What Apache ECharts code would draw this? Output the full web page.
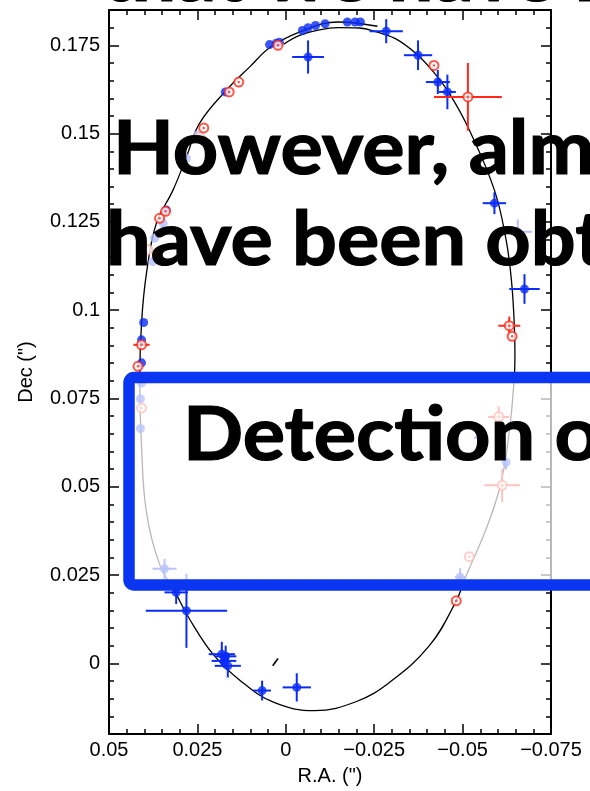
<!DOCTYPE html>
<html><head><meta charset="utf-8">
<script src="https://cdn.jsdelivr.net/npm/echarts@6/dist/echarts.min.js"></script>
<style>html,body{margin:0;padding:0;background:#fff}#c{width:590px;height:791px}</style>
</head><body><div id="c"></div>
<script>
// ---- data (R.A. ["], Dec ["], err R.A., err Dec) ----
const xTicks = [0.05, 0.025, 0, -0.025, -0.05, -0.075];
const yTicks = [0, 0.025, 0.05, 0.075, 0.1, 0.125, 0.15, 0.175];

const orbitPoints = [
 [0.0006,0.1753],[-0.0039,0.1778],[-0.0095,0.1794],[-0.0149,0.1800],[-0.0208,0.1799],
 [-0.0256,0.1788],[-0.0310,0.1769],[-0.0369,0.1726],[-0.0418,0.1674],[-0.0463,0.1613],
 [-0.0519,0.1510],[-0.0590,0.1340],[-0.0623,0.1199],[-0.0638,0.1086],[-0.0646,0.0964],
 [-0.0648,0.0880],[-0.0646,0.0803],[-0.0627,0.0615],[-0.0604,0.0493],[-0.0566,0.0379],
 [-0.0510,0.0248],[-0.0482,0.0177],[-0.0406,0.0050],[-0.0293,-0.0054],[-0.0200,-0.0108],
 [-0.0082,-0.0134],[0.0035,-0.0110],[0.0131,-0.0047],[0.0206,0.0026],
 [0.0272,0.0125],[0.0310,0.0196],[0.0357,0.0281],[0.0394,0.0427],[0.0408,0.0615],
 [0.0413,0.0803],[0.0408,0.0964],[0.0394,0.1105],[0.0366,0.1246],[0.0319,0.1340],
 [0.0281,0.1434],[0.0244,0.1529],[0.0168,0.1623],[0.0102,0.1689],[0.0043,0.1745],
 [-0.0042,0.1789],[-0.0148,0.1816],[-0.0259,0.1804]
];

const bluePoints = [
 [0.0171,0.1618,0,0],[0.0046,0.1752,0,0],[0.0027,0.1756,0,0],[0.0018,0.1759,0,0],
 [-0.0047,0.1792,0,0],[-0.0063,0.1800,0,0],[-0.0084,0.1806,0,0],[-0.0111,0.1811,0,0],
 [-0.0174,0.1816,0,0],[-0.0196,0.1816,0,0],[-0.0211,0.1816,0,0],
 [-0.0063,0.1717,0.0045,0.0047],[-0.0284,0.1790,0.0047,0.0034],[-0.0374,0.1722,0.0040,0.0042],
 [-0.0430,0.1646,0.0034,0.0034],[-0.0457,0.1618,0.0024,0.0049],[-0.0590,0.1303,0.0033,0.0031],
 [-0.0675,0.1060,0.0043,0.0042],[-0.0031,-0.0068,0.0040,0.0040],[0.0067,-0.0077,0.0025,0.0028],
 [0.0281,0.0149,0.0115,0.0105],[0.0310,0.0201,0.0033,0.0033],[0.0181,0.0026,0.0037,0.0035],
 [0.0170,0.0020,0.0030,0.0030],[0.0175,0.0007,0.0035,0.0020],[0.0164,-0.0007,0.0037,0.0033],
 [0.0338,0.1284,0,0],[0.0402,0.0965,0,0],[0.0408,0.0916,0,0],[0.0408,0.0851,0,0],
 [0.0408,0.0794,0,0],[0.0411,0.0749,0,0],[0.0411,0.0665,0,0],[0.0343,0.0268,0.0034,0.0028],
 [-0.0552,0.0639,0.0020,0.0030],[-0.0623,0.0569,0,0.0020],[-0.0493,0.0244,0.0015,0.0025]
];

const redPoints = [
 [0.0160,0.1618,0,0],[0.0133,0.1646,0,0],[0.0022,0.1750,0,0],[0.0232,0.1516,0,0],
 [-0.0419,0.1693,0,0],[-0.0515,0.1604,0.0096,0.0096],[0.0340,0.1280,0,0],[0.0357,0.1260,0,0],
 [-0.0632,0.0956,0.0031,0.0026],[-0.0640,0.0926,0,0],[0.0408,0.0902,0.0023,0],[0.0418,0.0841,0,0],
 [-0.0482,0.0177,0,0],[0.0408,0.0723,0,0],[-0.0602,0.0698,0.0030,0.0030],[-0.0609,0.0617,0,0],
 [-0.0612,0.0504,0.0050,0.0047],[-0.0519,0.0302,0,0]
];

const fadedBluePoints = [
 [0.0249,0.1496,0,0],[0.0281,0.1430,0,0],[0.0347,0.1246,0,0],[0.0371,0.1204,0,0],
 [0.0376,0.1138,0,0],[-0.0656,0.1222,0.0040,0.0035]
];
const fadedRedPoints = [[0.0244,0.1490,0.0020,0],[0.0390,0.1171,0,0],[-0.0538,0.1420,0,0]];

const dashSegment = [[0.0037,-0.0007],[0.0022,0.0014]];

const slideLines = ['that we have r', 'However, alm', 'have been obt', 'Detection o'];

// ---- styling ----
const BLUE = '#0a2cf5', RED = '#ff2a1a', FBLUE = '#b3befb', FRED = '#fbb5ae';
const labelFont = {fontFamily:'Liberation Sans, Arial, sans-serif', fontSize:20, color:'#000'};
const fmt = v => {
  if (Math.abs(v) < 1e-9) return '0';
  const s = String(Number(Math.abs(v).toFixed(3)));
  return (v < 0 ? '\u2212' : '') + s;
};

function errBars(color, width) {
  return function (params, api) {
    const x = api.value(0), y = api.value(1), ex = api.value(2), ey = api.value(3);
    const children = [];
    if (ex > 0) {
      const a = api.coord([x + ex, y]), b = api.coord([x - ex, y]);
      children.push({type:'line', shape:{x1:a[0],y1:a[1],x2:b[0],y2:b[1]}, style:{stroke:color, lineWidth:width}});
    }
    if (ey > 0) {
      const a = api.coord([x, y + ey]), b = api.coord([x, y - ey]);
      children.push({type:'line', shape:{x1:a[0],y1:a[1],x2:b[0],y2:b[1]}, style:{stroke:color, lineWidth:width}});
    }
    return {type:'group', children};
  };
}

const xMin = -0.075, xMax = 0.05, yMin = -0.02, yMax = 0.185;
const lineSt = {color:'#000', width:2};
const tickSt = {color:'#000', width:1.5};

const xAxes = ['bottom','top'].map((pos, i) => ({
  type:'value', position:pos, min:xMin, max:xMax, inverse:true, interval:0.025,
  axisLine:{show:true, onZero:false, lineStyle:lineSt},
  axisTick:{show:true, inside:true, length:10, lineStyle:tickSt},
  minorTick:{show:true, splitNumber:5, length:5, lineStyle:tickSt},
  splitLine:{show:false}, minorSplitLine:{show:false},
  axisLabel: i === 0 ? Object.assign({show:true, margin:6, formatter:fmt}, labelFont) : {show:false},
  name: i === 0 ? 'R.A. (")' : '', nameLocation:'middle', nameGap:32,
  nameTextStyle: labelFont
}));

const yAxes = [];
['left','right'].forEach((pos, i) => {
  yAxes.push({
    type:'value', position:pos, min:yMin, max:yMax,
    axisLine:{show:true, onZero:false, lineStyle:lineSt},
    axisTick:{show:true, inside:true, length:10, lineStyle:tickSt, customValues:yTicks},
    splitLine:{show:false},
    axisLabel: i === 0 ? Object.assign({show:true, margin:9, formatter:fmt, customValues:yTicks}, labelFont) : {show:false},
    name: i === 0 ? 'Dec (")' : '', nameLocation:'middle', nameGap:73, nameRotate:90,
    nameTextStyle: labelFont
  });
  yAxes.push({
    type:'value', position:pos, min:yMin, max:yMax, interval:0.005,
    axisLine:{show:false, onZero:false},
    axisTick:{show:true, inside:true, length:5, lineStyle:tickSt},
    splitLine:{show:false}, axisLabel:{show:false}
  });
});

const slideFont = 'bold 74px Lato';
const slideText = (t, x, y) => ({type:'text', z:110, x, y, scaleX:1.07,
  style:{text:t, x:0, y:0, font:slideFont, fill:'#000', stroke:'#000', lineWidth:1.2, verticalAlign:'middle'}});

const option = {
  animation:false,
  backgroundColor:'#fff',
  grid:{left:109, right:39, top:10, bottom:56, containLabel:false},
  xAxis: xAxes,
  yAxis: yAxes,
  series: [
    {type:'line', data:orbitPoints, smooth:0.4, symbol:'none', lineStyle:{color:'#000', width:1.3}, z:2},
    {type:'line', data:dashSegment, symbol:'none', lineStyle:{color:'#000', width:1.6}, z:2},
    {type:'custom', data:fadedBluePoints, renderItem:errBars(FBLUE,2), encode:{x:0,y:1}, z:3},
    {type:'custom', data:fadedRedPoints, renderItem:errBars(FRED,2), encode:{x:0,y:1}, z:3},
    {type:'scatter', data:fadedBluePoints, symbolSize:9, itemStyle:{color:FBLUE}, z:4},
    {type:'scatter', data:fadedRedPoints, symbol:'emptyCircle', symbolSize:9, itemStyle:{color:FRED, borderColor:FRED, borderWidth:2}, z:4},
    {type:'custom', data:bluePoints, renderItem:errBars(BLUE,2), encode:{x:0,y:1}, z:5},
    {type:'custom', data:redPoints, renderItem:errBars(RED,2), encode:{x:0,y:1}, z:5},
    {type:'scatter', data:bluePoints, symbolSize:9, itemStyle:{color:BLUE}, z:6},
    {type:'scatter', data:redPoints, symbol:'emptyCircle', symbolSize:9, itemStyle:{color:RED, borderColor:RED, borderWidth:2.2}, z:7},
    {type:'scatter', data:redPoints, symbolSize:2.5, itemStyle:{color:RED}, z:8}
  ],
  graphic: [
    {type:'rect', z:100, shape:{x:129, y:377.5, width:480, height:207.5, r:5},
     style:{fill:'rgba(255,255,255,0.72)', stroke:'#0a36f2', lineWidth:11.5}},
    slideText(slideLines[0], 102, -23),
    slideText(slideLines[1], 113, 150),
    slideText(slideLines[2], 106, 241),
    slideText(slideLines[3], 183, 436)
  ]
};

const chart = echarts.init(document.getElementById('c'), null, {renderer:'canvas'});
chart.setOption(option);
</script>
</body></html>
